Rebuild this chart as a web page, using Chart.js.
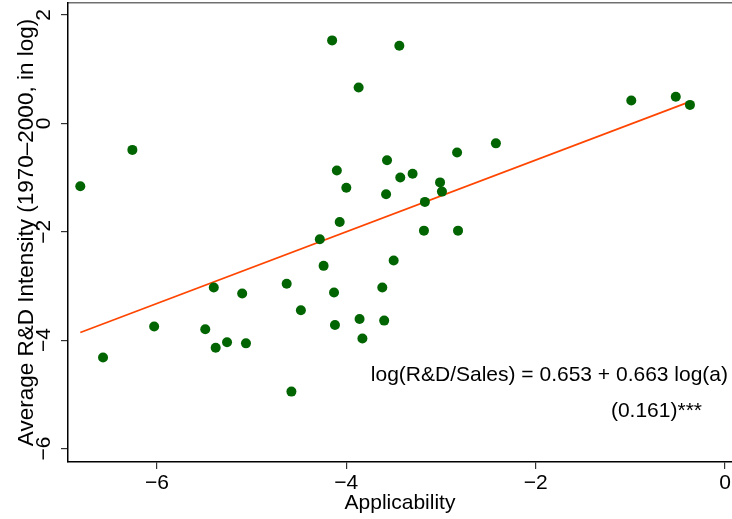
<!DOCTYPE html>
<html><head><meta charset="utf-8">
<script src="https://cdn.jsdelivr.net/npm/chart.js@4/dist/chart.umd.min.js"></script>
<style>html,body{margin:0;padding:0;background:#fff}#wrap{width:732px;height:519px}</style>
</head><body><div id="wrap"><canvas id="c" width="732" height="519"></canvas></div>
<script>
// Scatter data: applicability (x, log) vs average R&D intensity (y, log)
const applicability = [-6.81,-6.26,-6.57,-6.03,-5.40,-5.10,-5.49,-5.38,-5.26,-5.06,
  -4.24,-4.63,-4.13,-4.48,-4.12,-3.86,-3.83,-4.58,-3.62,-3.60,
  -3.57,-4.10,-3.43,-3.30,-2.83,-4.00,-3.58,-3.01,-2.99,-3.17,
  -4.07,-4.28,-3.18,-2.82,-3.50,-2.42,-4.15,-3.44,-3.87,-0.99,-0.52,-0.37];
const rdIntensity = [-1.16,-0.49,-4.32,-3.75,-3.03,-3.14,-3.80,-4.14,-4.04,-4.06,
  -2.63,-2.96,-3.12,-3.45,-3.72,-3.61,-3.97,-4.95,-3.03,-3.64,
  -0.68,-0.87,-1.00,-0.93,-0.54,-1.19,-1.31,-1.09,-1.26,-1.45,
  -1.82,-2.14,-1.98,-1.98,-2.53,-0.37,1.53,1.43,0.66,0.42,0.49,0.34];
// Fitted line endpoints
const fitX = [-6.81, -0.37];
const fitY = [-3.86, 0.40];
const xTicks = [-6, -4, -2, 0];
const yTicks = [-6, -4, -2, 0, 2];
const xTitle = 'Applicability';
const yTitle = 'Average R&D Intensity (1970\u20132000, in log)';
const eqLine1 = 'log(R&D/Sales) = 0.653 + 0.663 log(a)';
const eqLine2 = '(0.161)***';
const eqPos1 = [0.032, -4.755];
const eqPos2 = [-0.243, -5.42];

const FONT = '"Liberation Sans", Arial, Helvetica, sans-serif';
const minus = v => String(v).replace('-', '\u2212');

const textPlugin = {
  id: 'textPlugin',
  afterDraw(chart) {
    const ctx = chart.ctx, xs = chart.scales.x, ys = chart.scales.y;
    ctx.save();
    ctx.fillStyle = '#000';
    ctx.font = '21px ' + FONT;
    ctx.textAlign = 'center';
    ctx.textBaseline = 'alphabetic';
    // x tick labels
    xTicks.forEach(v => {
      ctx.fillText(minus(v), xs.getPixelForValue(v), xs.top + 27);
    });
    // rotated y tick labels
    yTicks.forEach(v => {
      ctx.save();
      ctx.translate(50, ys.getPixelForValue(v));
      ctx.rotate(-Math.PI / 2);
      ctx.fillText(minus(v), 0, 0);
      ctx.restore();
    });
    // equation text
    ctx.textAlign = 'right';
    ctx.fillText(eqLine1, xs.getPixelForValue(eqPos1[0]), ys.getPixelForValue(eqPos1[1]));
    ctx.fillText(eqLine2, xs.getPixelForValue(eqPos2[0]), ys.getPixelForValue(eqPos2[1]));
    ctx.restore();
  }
};

new Chart(document.getElementById('c'), {
  data: {
    datasets: [
      { type: 'scatter', data: applicability.map((x, i) => ({x, y: rdIntensity[i]})),
        backgroundColor: '#006400', borderWidth: 0, pointRadius: 5, pointHoverRadius: 5, order: 1, clip: false },
      { type: 'line', data: fitX.map((x, i) => ({x, y: fitY[i]})),
        borderColor: '#ff4500', borderWidth: 1.7, pointRadius: 0, fill: false, order: 2 }
    ]
  },
  options: {
    responsive: false, animation: false, devicePixelRatio: 1,
    layout: { padding: 0, autoPadding: false },
    plugins: { legend: { display: false }, tooltip: { enabled: false } },
    scales: {
      x: {
        type: 'linear', position: 'bottom', min: -6.94, max: 0.074,
        afterBuildTicks: s => { s.ticks = xTicks.map(v => ({value: v})); },
        afterFit: s => { s.height = 57; },
        ticks: { display: false },
        grid: { drawOnChartArea: false, drawTicks: true, tickLength: 7, color: '#333', lineWidth: 1.2 },
        border: { color: '#000', width: 1.5 },
        title: { display: true, text: xTitle, color: '#000', font: { family: FONT, size: 21 }, padding: { top: 0, bottom: 3 } }
      },
      xTop: {
        type: 'linear', position: 'top', min: -6.94, max: 0.074,
        afterFit: s => { s.height = 3; },
        ticks: { display: false }, grid: { display: false },
        border: { color: '#707070', width: 1.5 }
      },
      y: {
        type: 'linear', position: 'left', min: -6.249, max: 2.22,
        afterBuildTicks: s => { s.ticks = yTicks.map(v => ({value: v})); },
        afterFit: s => { s.width = 68; },
        ticks: { display: false },
        grid: { drawOnChartArea: false, drawTicks: true, tickLength: 7, color: '#333', lineWidth: 1.2 },
        border: { color: '#000', width: 1.5 },
        title: { display: true, text: yTitle, color: '#000', font: { family: FONT, size: 22.5 }, padding: { top: 13, bottom: 0 } }
      }
    }
  },
  plugins: [textPlugin]
});
</script>
</body></html>
